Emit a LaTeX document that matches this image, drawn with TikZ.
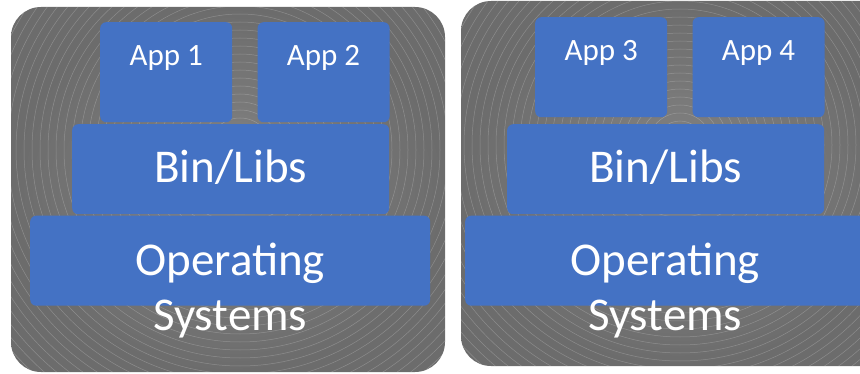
\documentclass[tikz,border=0pt]{standalone}
\usepackage{fontspec}
\setmainfont{Carlito}
\usetikzlibrary{positioning, calc}
\definecolor{boxblue}{HTML}{4472C4}
\definecolor{panellight}{HTML}{858585}
\definecolor{paneldark}{HTML}{6C6C6C}

\begin{document}
\begin{tikzpicture}
        [
            x=1pt, y=-1pt,
            layer/.style={rectangle, fill=boxblue, rounded corners=6pt,
                          inner sep=0pt, anchor=north west},
            lbl/.style={text=white, inner sep=0pt, anchor=base, align=center},
            ring/.style={white, opacity=0.22, line width=0.5pt}
        ]
        \useasboundingbox (0,0) rectangle (860,374);
        \clip (0,0) rectangle (860,374);
        \foreach \px/\dx/\pt/\pb/\at/\cx/\cy/\na/\nb [count = \k] in
            {11/0/7/372/22/240/150/1/2, 461/435/1/366/17/680/145/3/4}{
            % panel with rings
            \begin{scope}
                \path [clip, rounded corners=30pt] (\px,\pt) rectangle (\px+434,\pb);
                \shade [inner color=panellight, outer color=paneldark]
                    (\px,\pt) rectangle (\px+434,\pb);
                \foreach \r in {8,16,...,330}
                    \draw [ring] (\cx,\cy) circle (\r pt);
            \end{scope}
            % layers
            \node (app\na) [layer, minimum width=132, minimum height=100] at (100+\dx,\at) {};
            \node (app\nb) [layer, minimum width=132, minimum height=100, right=25pt of app\na] {};
            \node (bin\k) [layer, minimum width=317, minimum height=90] at (72+\dx,124) {};
            \node (os\k) [layer, minimum width=400, minimum height=90] at (30+\dx,215.5) {};
            \node (app\na-t) [lbl, font=\fontsize{31}{36}\selectfont]
                at ($(app\na.north)+(0,-44pt)$) {App \na};
            \node (app\nb-t) [lbl, font=\fontsize{31}{36}\selectfont]
                at ($(app\nb.north)+(0,-44pt)$) {App \nb};
            \node (bin\k-t) [lbl, font=\fontsize{47}{55}\selectfont]
                at ($(bin\k.north)+(0,-59pt)$) {Bin/Libs};
            \node (os\k-t) [lbl, font=\fontsize{47}{55}\selectfont]
                at ($(os\k.north)+(0,-115pt)$) {Operating\\Systems};
        }
    \end{tikzpicture}
\end{document}
